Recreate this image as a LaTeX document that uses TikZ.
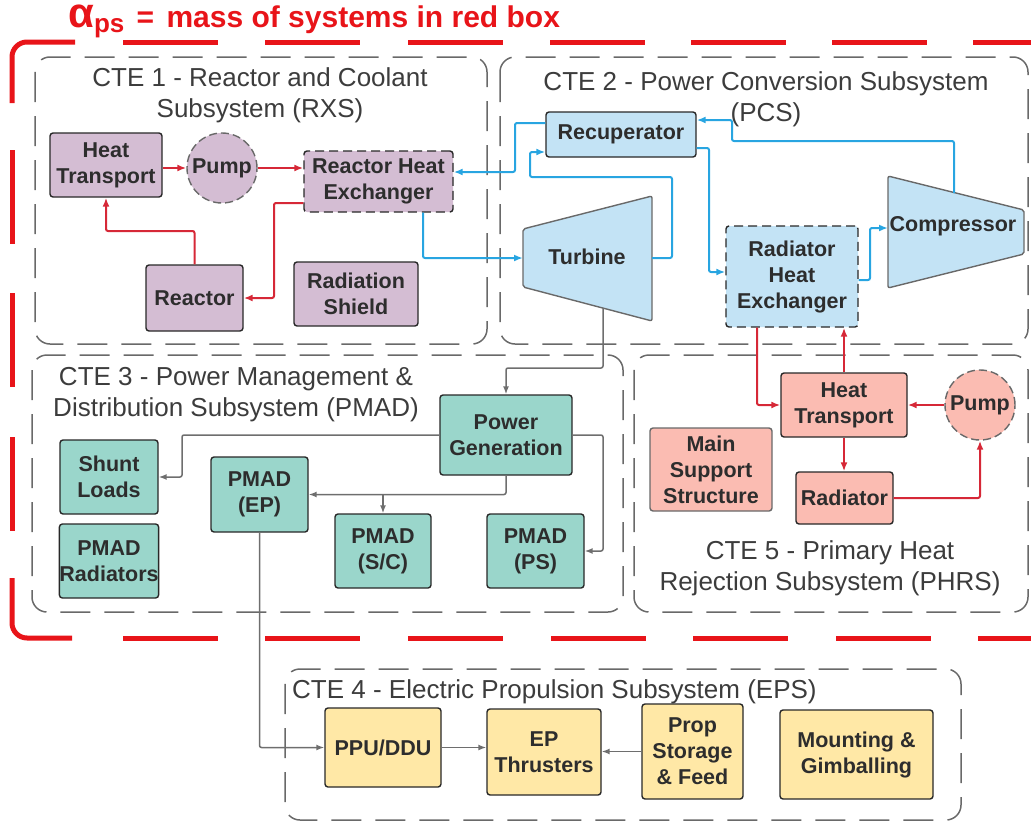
\documentclass[tikz,border=0pt]{standalone}
\usepackage{fontspec}
\setmainfont{Liberation Sans}
\usetikzlibrary{arrows.meta}

\begin{document}
\begin{tikzpicture}[x=1pt, y=-1pt, align=center,
    box/.style={draw=edgecol, line width=1.4pt, rounded corners=3pt, inner sep=0pt,
        text=textcol, font=\bfseries\fontsize{21.5}{26}\selectfont},
    rxsbox/.style={box, fill=rxsfill},
    pcsbox/.style={box, fill=pcsfill},
    pmadbox/.style={box, fill=pmadfill},
    epsbox/.style={box, fill=epsfill},
    phrsbox/.style={box, fill=phrsfill},
    dashbox/.style={dash pattern=on 9pt off 5pt},
    pumpnode/.style={circle, draw=groupcol, line width=1.4pt, dash pattern=on 8pt off 4pt,
        minimum size=70pt, inner sep=0pt, text=textcol, font=\bfseries\fontsize{21.5}{26}\selectfont},
    trapez/.style={fill=pcsfill, draw=groupcol, line width=1.4pt, rounded corners=2pt},
    framedash/.style={draw=framered, line width=5pt, rounded corners=15pt},
    group/.style={draw=groupcol, line width=1.5pt, dash pattern=on 30pt off 14pt, rounded corners=15pt},
    grouptitle/.style={text=titlecol, font=\fontsize{26}{31}\selectfont},
    redarrow/.style={draw=arrred, line width=2pt, -{Latex[length=9pt,width=7pt]}, rounded corners=2pt},
    bluearrow/.style={draw=arrblue, line width=2pt, -{Latex[length=9pt,width=7pt]}, rounded corners=2pt},
    grayarrow/.style={draw=arrgray, line width=1.5pt, -{Latex[length=8pt,width=6pt]}, rounded corners=2pt}
]

    % Farben
    \definecolor{rxsfill}{RGB}{212,189,211}
    \definecolor{pcsfill}{RGB}{195,227,245}
    \definecolor{pmadfill}{RGB}{154,214,203}
    \definecolor{epsfill}{RGB}{255,232,166}
    \definecolor{phrsfill}{RGB}{251,188,178}
    \definecolor{edgecol}{RGB}{40,40,40}
    \definecolor{textcol}{RGB}{45,45,45}
    \definecolor{titlecol}{RGB}{60,60,60}
    \definecolor{groupcol}{RGB}{105,105,105}
    \definecolor{arrred}{RGB}{214,40,55}
    \definecolor{arrblue}{RGB}{40,165,225}
    \definecolor{arrgray}{RGB}{110,110,110}
    \definecolor{framered}{RGB}{232,20,25}

    \useasboundingbox (0,0) rectangle (1031,822);

    % roter Rahmen (Striche einzeln)
    \draw[framedash] (75,42) -- (12,42) -- (12,103);
    \draw[framedash] (12,578) -- (12,638) -- (72,638);
    \foreach \x in {123,265,408,550,691,832,973}
        \draw[framedash] (\x,42) -- ++(95,0);
    \foreach \x in {123,265,408,551,693,836,978}
        \draw[framedash] (\x,638) -- ++(95,0);
    \foreach \y in {150,293,437}
        \draw[framedash] (12,\y) -- ++(0,94);
    \node[anchor=base west, text=framered, font=\bfseries, inner sep=0pt] (alpha) at (68,27.5)
        {{\fontsize{42}{42}\selectfont α}{\fontsize{26}{26}\selectfont\raisebox{-5pt}{ps}}%
        {\fontsize{30}{30}\selectfont\hspace{4pt} =\hspace{4pt} mass of systems in red box}};

    % Gruppen
    \draw[group] (35,57) rectangle (487,344);
    \draw[group] (500,57) rectangle (1028,344);
    \draw[group] (32,355) rectangle (623,612);
    \draw[group] (634,355) rectangle (1028,612);
    \draw[group] (285,669) rectangle (961,820);

    \node[grouptitle] (t1) at (260,95) {CTE 1 - Reactor and Coolant\\Subsystem (RXS)};
    \node[grouptitle] (t2) at (766,99) {CTE 2 - Power Conversion Subsystem\\(PCS)};
    \node[grouptitle] (t3) at (236,395) {CTE 3 - Power Management \&\\Distribution Subsystem (PMAD)};
    \node[grouptitle, anchor=west, inner sep=0pt] (t4) at (292,692) {CTE 4 - Electric Propulsion Subsystem (EPS)};
    \node[grouptitle] (t5) at (830,568) {CTE 5 - Primary Heat\\Rejection Subsystem (PHRS)};

    % CTE 1
    \node[rxsbox, minimum width=112, minimum height=64] (ht1) at (106,165) {Heat\\Transport};
    \node[pumpnode, fill=rxsfill] (pump1) at (222,168) {Pump};
    \node[rxsbox, dashbox, minimum width=149, minimum height=61] (rhx) at (378.5,181.5) {Reactor Heat\\Exchanger};
    \node[rxsbox, minimum width=97, minimum height=66] (reac) at (194.5,298) {Reactor};
    \node[rxsbox, minimum width=124, minimum height=64] (shield) at (356,294) {Radiation\\Shield};

    % CTE 2
    \node[pcsbox, minimum width=150, minimum height=45] (rec) at (621,134.5) {Recuperator};
    \draw[trapez] (523,229) -- (652,196) -- (652,321) -- (523,287) -- cycle;
    \node[text=textcol, font=\bfseries\fontsize{21.5}{26}\selectfont] (turb) at (587,257) {Turbine};
    \draw[trapez] (888,176) -- (1024,210) -- (1024,254) -- (888,288) -- cycle;
    \node[text=textcol, font=\bfseries\fontsize{21.5}{26}\selectfont, inner sep=0pt] (comp) at (953,226) {Compressor};
    \node[pcsbox, dashbox, minimum width=132, minimum height=101] (radhx) at (792,276.5) {Radiator\\Heat\\Exchanger};
    \coordinate (tin) at (523,258);
    \coordinate (tout) at (652,258);
    \coordinate (tbot) at (603,308);
    \coordinate (cin) at (888,228);
    \coordinate (ctop) at (954,193);

    % CTE 3
    \node[pmadbox, minimum width=132, minimum height=80] (pg) at (506,435) {Power\\Generation};
    \node[pmadbox, minimum width=98, minimum height=74] (shunt) at (109,477) {Shunt\\Loads};
    \node[pmadbox, minimum width=98, minimum height=74] (pmrad) at (109,561) {PMAD\\Radiators};
    \node[pmadbox, minimum width=97, minimum height=75] (pmep) at (259.5,494.5) {PMAD\\(EP)};
    \node[pmadbox, minimum width=96, minimum height=74] (pmsc) at (383,551) {PMAD\\(S/C)};
    \node[pmadbox, minimum width=97, minimum height=74] (pmps) at (535.5,551) {PMAD\\(PS)};
    \coordinate (jsc) at (pmsc.north |- pmep.east);

    % CTE 4
    \node[epsbox, minimum width=116, minimum height=79] (ppu) at (383,747.5) {PPU/DDU};
    \node[epsbox, minimum width=114, minimum height=86] (ept) at (544,752) {EP\\Thrusters};
    \node[epsbox, minimum width=101, minimum height=95] (prop) at (692.5,751.5) {Prop\\Storage\\\& Feed};
    \node[epsbox, minimum width=153, minimum height=89] (mount) at (856.5,754.5) {Mounting \&\\Gimballing};

    % CTE 5
    \node[phrsbox, minimum width=126, minimum height=64] (ht2) at (844,405) {Heat\\Transport};
    \node[pumpnode, fill=phrsfill] (pump2) at (980,405) {Pump};
    \node[phrsbox, draw=groupcol, minimum width=122, minimum height=83] (mss) at (711,469.5) {Main\\Support\\Structure};
    \node[phrsbox, minimum width=97, minimum height=52] (rad) at (844.5,498) {Radiator};

    % Pfeile rot
    \draw[redarrow] (ht1.east |- pump1.west) -- (pump1.west);
    \draw[redarrow] (pump1.east) -- (pump1.east -| rhx.west);
    \draw[redarrow] ([yshift=-21.5pt]rhx.west) -| (274,298) -- (reac.east);
    \draw[redarrow] (reac.north) |- (106,231) -- (ht1.south);
    \draw[redarrow] ([xshift=-35pt]radhx.south) |- (ht2.west);
    \draw[redarrow] (ht2.north) -- (ht2.north |- radhx.south);
    \draw[redarrow] (pump2.west) -- (ht2.east);
    \draw[redarrow] (ht2.south) -- (ht2.south |- rad.north);
    \draw[redarrow] (rad.east) -| (pump2.south);

    % Pfeile blau
    \draw[bluearrow] ([yshift=11.5pt]rec.west) -| (515,172) -- ([yshift=9.5pt]rhx.east);
    \draw[bluearrow] ([xshift=44.5pt]rhx.south) |- (tin);
    \draw[bluearrow] (tout) -| (672,177) -| (530,152) -- ([yshift=-17.5pt]rec.west);
    \draw[bluearrow] ([yshift=-13.5pt]rec.east) -| (709,272) -- ([yshift=4.5pt]radhx.west);
    \draw[bluearrow] ([yshift=-3.5pt]radhx.east) -| (870,228) -- (cin);
    \draw[bluearrow] (ctop) |- (732,141) |- ([yshift=14.5pt]rec.east);

    % Pfeile grau
    \draw[grayarrow] (tbot) |- (506,368) -- (pg.north);
    \draw[grayarrow] (pg.west) -| (182,477) -- (shunt.east);
    \draw[grayarrow] (pg.south) |- (pmep.east);
    \draw[grayarrow] (jsc) -- (pmsc.north);
    \draw[grayarrow] (pg.east) -| (603,551) -- (pmps.east);
    \draw[grayarrow] (pmep.south) |- (ppu.west);
    \draw[grayarrow] (ppu.east) -- (ppu.east -| ept.west);
    \draw[grayarrow] (prop.west) -- (prop.west -| ept.east);

\end{tikzpicture}
\end{document}
